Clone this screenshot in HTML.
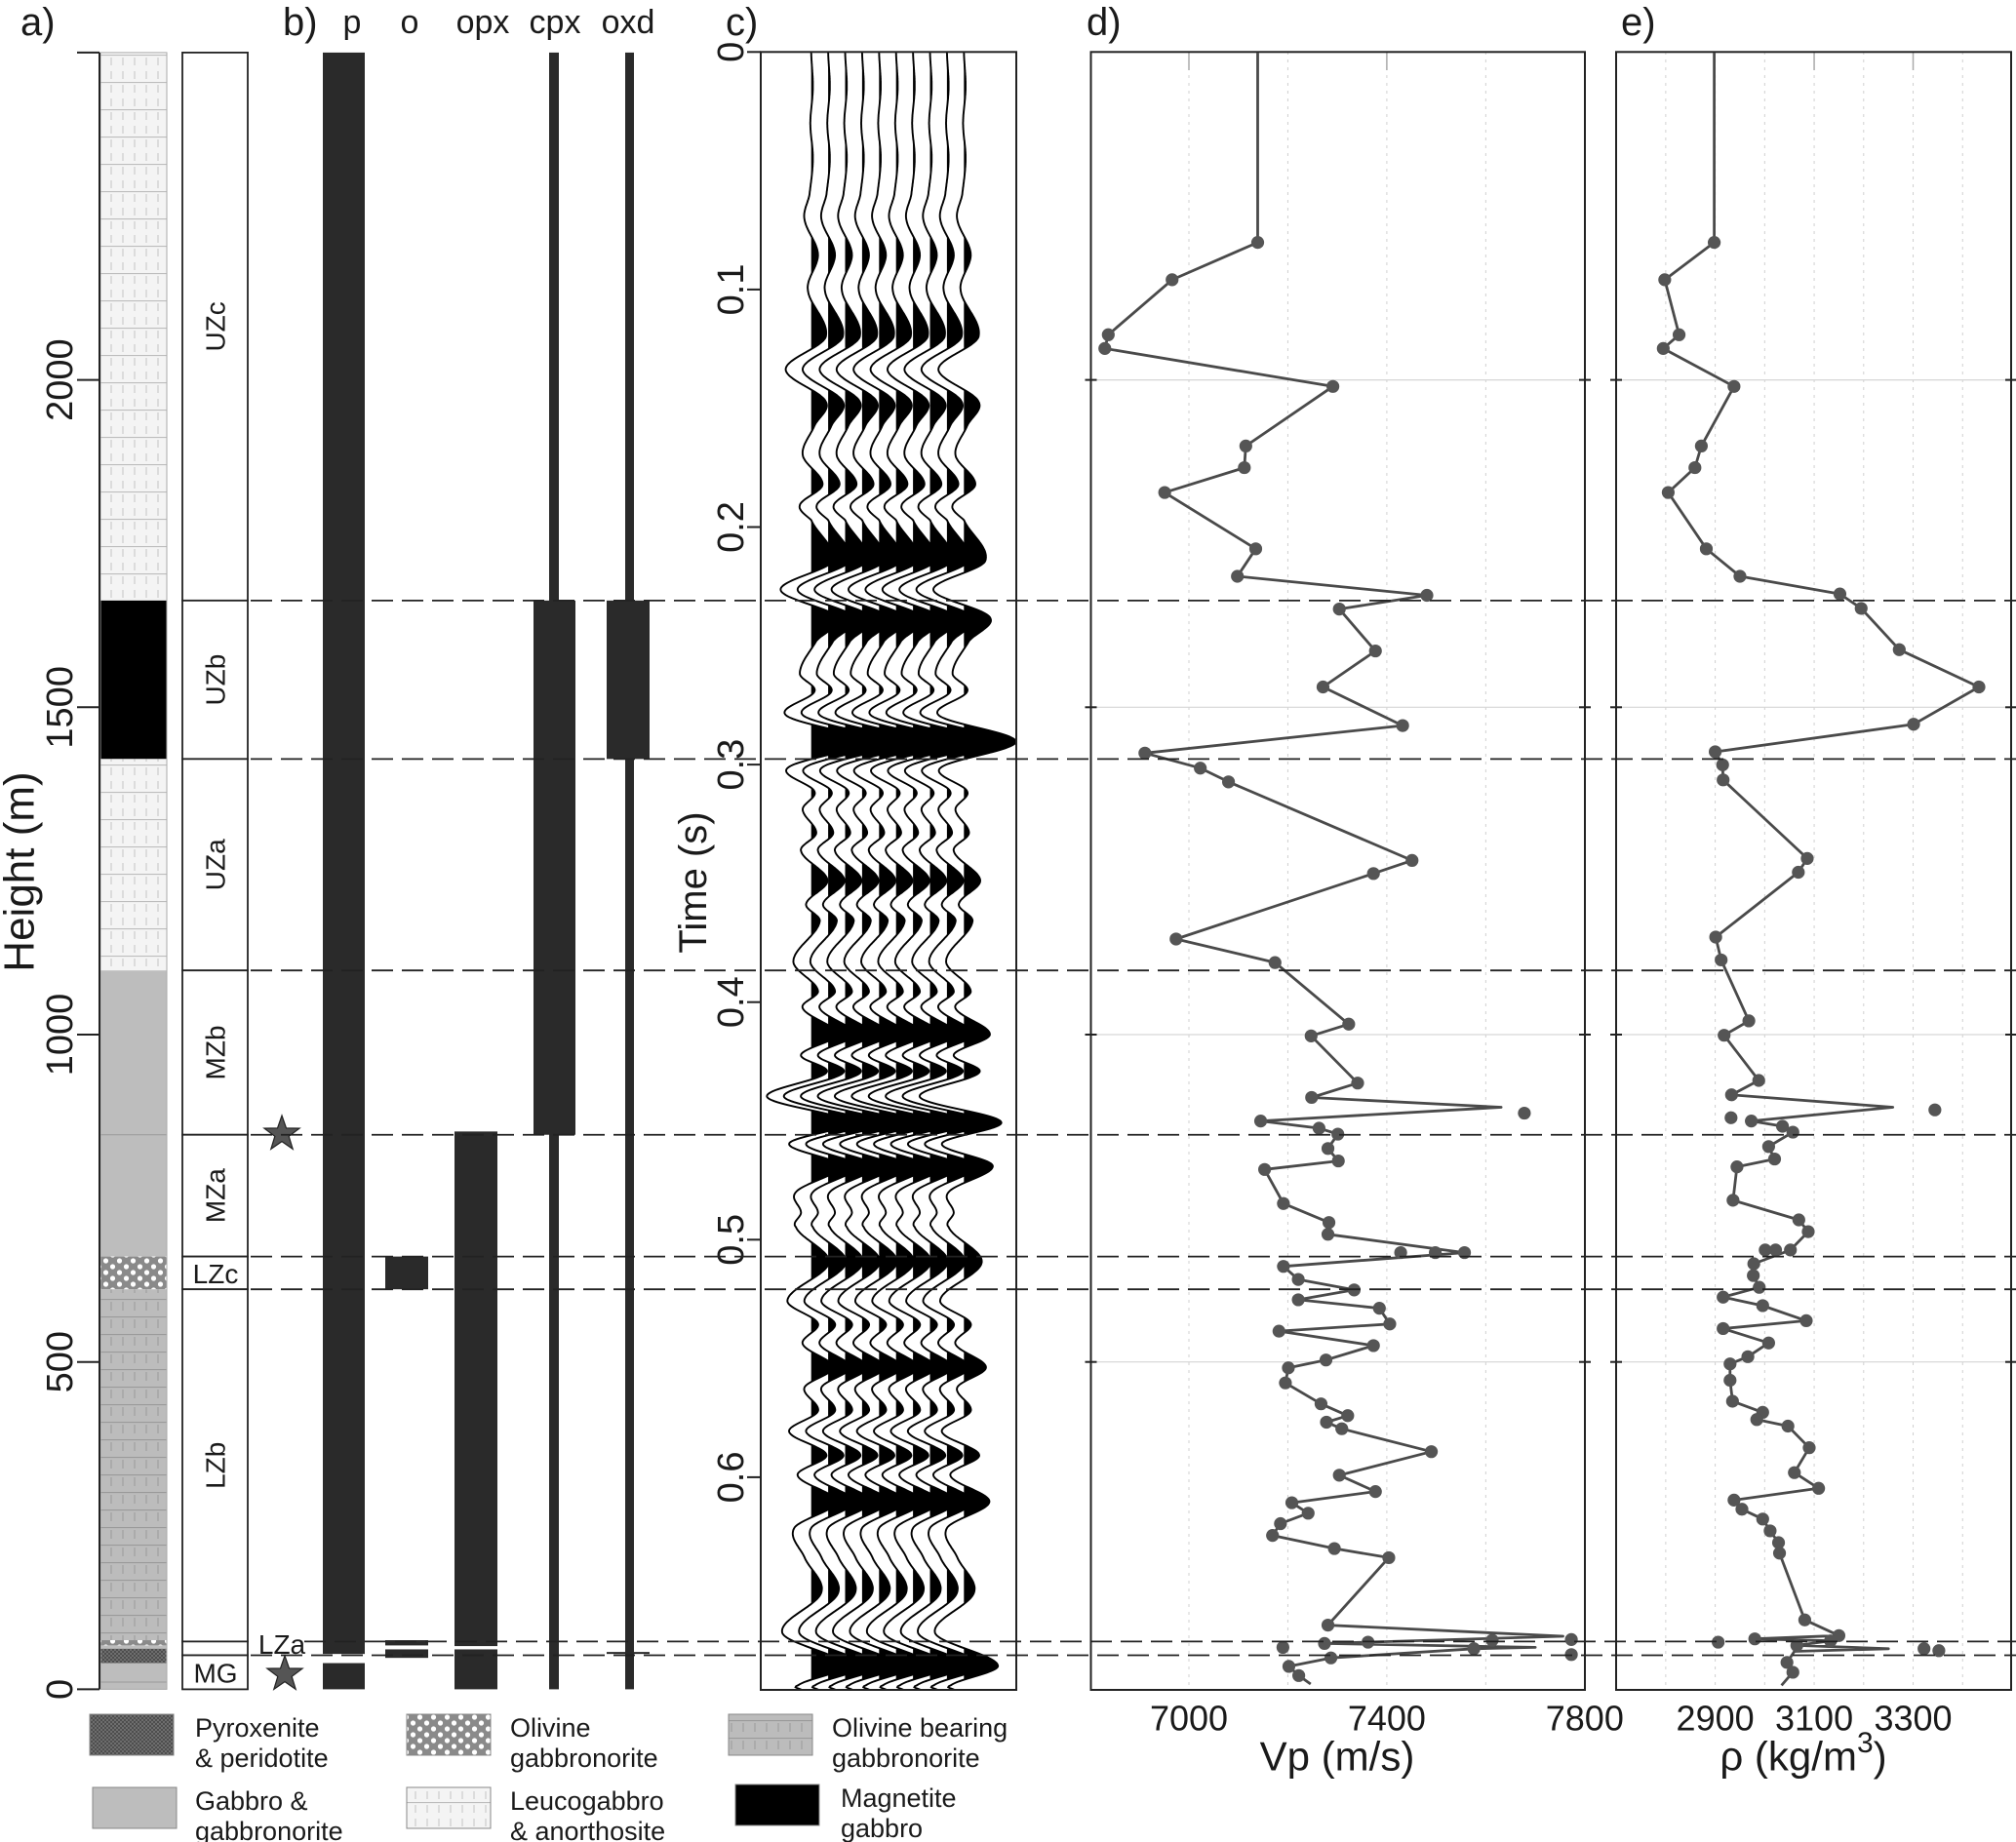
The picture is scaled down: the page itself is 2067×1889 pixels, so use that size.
<!DOCTYPE html>
<html><head><meta charset="utf-8"><style>
html,body{margin:0;padding:0;background:#fff}
svg{display:block;font-family:"Liberation Sans",Arial,sans-serif}
</style></head><body>
<svg id="fig" width="2067" height="1889" viewBox="0 0 2067 1889" xmlns="http://www.w3.org/2000/svg">
<defs>
<pattern id="pLeuco" width="12" height="28" patternUnits="userSpaceOnUse">
<rect width="12" height="28" fill="#f4f4f4"/><line x1="0" y1="0.5" x2="12" y2="0.5" stroke="#bdbdbd" stroke-width="1.2"/>
<line x1="6" y1="3" x2="6" y2="11" stroke="#c4c4c4" stroke-width="1"/><line x1="6" y1="17" x2="6" y2="25" stroke="#c4c4c4" stroke-width="1"/></pattern>
<pattern id="pOlb" width="12" height="18" patternUnits="userSpaceOnUse">
<rect width="12" height="18" fill="#bcbcbc"/><line x1="0" y1="0.5" x2="12" y2="0.5" stroke="#9a9a9a" stroke-width="1.2"/>
<line x1="6" y1="3" x2="6" y2="12" stroke="#9a9a9a" stroke-width="1"/></pattern>
<pattern id="pOlv" width="14" height="12" patternUnits="userSpaceOnUse">
<rect width="14" height="12" fill="#8a8a8a"/><circle cx="3.5" cy="3" r="2.6" fill="#fff"/><circle cx="10.5" cy="9" r="2.6" fill="#fff"/></pattern>
<pattern id="pPyx" width="4" height="4" patternUnits="userSpaceOnUse">
<rect width="4" height="4" fill="#7a7a7a"/><path d="M0 0L4 4M4 0L0 4" stroke="#4a4a4a" stroke-width="1"/></pattern>
</defs>
<g id="root"></g>
</svg>
<script>
// ---------- data ----------
const zoneNames=["UZc","UZb","UZa","MZb","MZa","LZc","LZb","LZa","MG"];
const zoneTops=[2500,1663,1421,1098,847,661,611,73,52];
const zoneBots=[1663,1421,1098,847,661,611,73,52,0];
const boundaries=[1663,1421,1098,847,661,611,73,52];
const heightTicks=[0,500,1000,1500,2000];
const timeTicks=[0,0.1,0.2,0.3,0.4,0.5,0.6];
const vpTicks=[7000,7400,7800];
const vpGrid=[7000,7200,7400,7600];
const rhoTicks=[2900,3100,3300];
const rhoGrid=[2800,2900,3000,3100,3200,3300,3400];
const depthGrid=[500,1000,1500,2000];

const vpH=[2500,2210,2153,2069,2048,1990,1899,1866,1828,1742,1700,1671,1650,1586,1531,1472,1430,1407,1386,1266,1246,1146,1110,1016,998,926,904,889,868,857,848,826,807,794,742,713,695,667,646,626,610,595,582,558,547,525,503,491,468,436,418,408,398,363,327,302,285,269,253,235,215,201,98,81,70,64,62,48,35,21,8];
const vpV=[7139,7139,6966,6837,6830,7291,7115,7112,6951,7135,7098,7481,7304,7377,7271,7432,6911,7023,7080,7451,7373,6974,7174,7323,7247,7341,7248,7631,7145,7263,7301,7281,7302,7153,7191,7283,7281,7557,7191,7221,7334,7221,7385,7406,7182,7373,7277,7201,7195,7267,7321,7278,7309,7490,7304,7377,7208,7241,7185,7169,7294,7404,7281,7756,7274,7700,7576,7287,7202,7222,7246];
const vpUnmarked=[0,27,63,65,70];
const vpExtraH=[880,667,667,76,75,72,64,53];
const vpExtraV=[7678,7428,7498,7773,7613,7362,7190,7773];

const rhoH=[2500,2210,2153,2069,2048,1990,1899,1866,1828,1742,1700,1673,1651,1588,1531,1474,1432,1412,1389,1269,1248,1149,1114,1021,999,930,908,889,868,860,851,829,810,798,747,717,699,671,650,632,614,599,586,563,551,529,508,497,472,440,423,412,402,369,331,307,289,275,260,242,224,208,106,82,77,74,67,62,58,41,26,6];
const rhoV=[2898,2898,2798,2827,2795,2938,2872,2859,2805,2882,2950,3152,3195,3272,3433,3301,2900,2915,2916,3086,3068,2901,2912,2968,2918,2988,2933,3259,2973,3036,3057,3008,3020,2944,2936,3069,3088,3052,2978,2977,2989,2916,2996,3084,2916,3008,2966,2930,2930,2935,2996,2984,3047,3090,3060,3109,2938,2954,2996,3011,3028,3030,3081,3150,2980,3133,3065,3250,3060,3045,3057,3034];
const rhoUnmarked=[0,27,67,68,71];
const rhoExtraH=[885,873,671,671,72,62,59];
const rhoExtraV=[3344,2932,3022,3001,2906,3322,3352];

const trT=[0,0.015,0.03,0.045,0.06,0.0702,0.0851,0.1,0.1199,0.1336,0.1472,0.1572,0.1696,0.1821,0.1908,0.197,0.2144,0.2264,0.238,0.248,0.2616,0.2691,0.2791,0.2903,0.3015,0.3114,0.3189,0.3288,0.3363,0.3487,0.3587,0.3661,0.3828,0.3952,0.4025,0.4136,0.4222,0.4296,0.4399,0.4505,0.4596,0.4689,0.48,0.4886,0.4947,0.5095,0.5255,0.5353,0.5439,0.5537,0.5623,0.5722,0.5808,0.5906,0.5992,0.6103,0.6214,0.6336,0.6484,0.6656,0.6792,0.6878,0.6898];
const trA=[0,0.1,-0.05,0.1,-0.1,-0.4,0.4,-0.2,0.86,-1.5,0.86,0.2,-0.5,0.67,-0.67,0,1.25,-1.8,1.53,0.3,-0.67,0.2,-1.5,3.06,-1.4,0.2,-0.5,0.3,-0.6,0.96,-0.3,0.5,-1.05,0.4,-0.5,1.53,-0.6,0.9,-2.6,2.2,-1.3,1.7,-0.9,-0.6,-0.9,1.05,-1.4,0.4,-0.5,1.3,-0.4,0.4,-1.3,0.9,-0.8,1.5,-1.0,-0.4,0.6,-1.7,2.0,-0.8,-0.5];
const traceCount=10;

// ---------- scales ----------
const yH=h=>1732.4-h*0.6714;
const yT=t=>53.3+t*2436;
const xVp=v=>1219+(v-7000)*0.50725;
const xRho=r=>1758.6+(r-2900)*0.5073;

const NS="http://www.w3.org/2000/svg";
const root=document.getElementById("root");
function mk(tag,attrs,parent){const e=document.createElementNS(NS,tag);for(const k in attrs)e.setAttribute(k,attrs[k]);(parent||root).appendChild(e);return e;}
function txt(s,x,y,size,attrs,parent){const e=mk("text",Object.assign({x:x,y:y,"font-size":size,fill:"#1a1a1a"},attrs||{}),parent);e.textContent=s;return e;}

// ---------- panel labels ----------
let t;
t=txt("a)",21,36,40);
t=txt("b)",290,36,40);
t=txt("c)",744,36,40);
t=txt("d)",1114,36,40);
t=txt("e)",1662,36,40);

// ---------- panel a: lithology ----------
const gA=mk("g",{});


const LX=103,LW=68;
function lith(h1,h2,fill,name){const r=mk("rect",{x:LX,y:yH(h1),width:LW,height:yH(h2)-yH(h1),fill:fill},gA);}
lith(2500,1663,"url(#pLeuco)","leucogabbro-upper");
lith(1663,1421,"#000","magnetite-gabbro");
lith(1421,1098,"url(#pLeuco)","leucogabbro-lower");
lith(1098,661,"#bdbdbd","gabbro");
lith(661,611,"url(#pOlv)","olivine-gabbronorite");
lith(611,75,"url(#pOlb)","olivine-bearing-gabbronorite");
lith(75,67,"url(#pOlv)","olivine-band");
lith(67,62,"#bdbdbd","gabbro-band");
lith(62,40,"url(#pPyx)","pyroxenite");
lith(40,0,"#bdbdbd","gabbro-base");
mk("line",{x1:LX,x2:LX+LW,y1:yH(847),y2:yH(847),stroke:"#999","stroke-width":1},gA);
mk("line",{x1:LX,x2:LX+LW,y1:yH(11),y2:yH(11),stroke:"#999","stroke-width":1},gA);
mk("rect",{x:LX,y:yH(2500),width:LW,height:yH(0)-yH(2500),fill:"none",stroke:"#aaa","stroke-width":1},gA);
// axis
const ax=mk("g",{});
mk("line",{x1:102,x2:102,y1:yH(2500),y2:yH(0),stroke:"#222","stroke-width":2},ax);
mk("line",{x1:79,x2:102,y1:yH(2500),y2:yH(2500),stroke:"#222","stroke-width":2},ax);
heightTicks.forEach(h=>{
  mk("line",{x1:79,x2:102,y1:yH(h),y2:yH(h),stroke:"#222","stroke-width":2},ax);
  const e=txt(String(h),62,yH(h),38,{"text-anchor":"middle","dominant-baseline":"central",transform:`rotate(-90 62 ${yH(h)})`});
  
  
});
t=txt("Height (m)",20,894,44,{"text-anchor":"middle","dominant-baseline":"central",transform:"rotate(-90 20 894)"});


// zones
const gZ=mk("g",{});
zoneNames.forEach((n,i)=>{
  const y1=yH(zoneTops[i]),y2=yH(zoneBots[i]);
  const r=mk("rect",{x:187,y:y1,width:67,height:y2-y1,fill:"#fff",stroke:"#222","stroke-width":1.8},gZ);
  
  
  let e;
  const cy=(y1+y2)/2;
  if(n==="LZc"||n==="MG") e=txt(n,221,cy+1,28,{"text-anchor":"middle","dominant-baseline":"central"},gZ);
  else if(n==="LZa") e=txt(n,289,cy-4,28,{"text-anchor":"middle","dominant-baseline":"central"},gZ);
  else e=txt(n,221,cy,28,{"text-anchor":"middle","dominant-baseline":"central",transform:`rotate(-90 221 ${cy})`},gZ);
  
  
});

// ---------- panel b: minerals ----------
const gB=mk("g",{});
const heads=[["p",361],["o",420],["opx",495],["cpx",569],["oxd",644]];
heads.forEach(h=>{const e=txt(h[0],h[1],34,34,{"text-anchor":"middle"},gB);});
function bar(x1,x2,h1,h2,name){const r=mk("rect",{x:x1,y:yH(h1),width:x2-x1,height:yH(h2)-yH(h1),fill:"#2a2a2a"},gB);}
bar(331,374,2500,54,"bar-p");bar(331,374,40,0,"bar-p-base");
bar(395,439,661,611,"bar-o-lzc");bar(395,439,75,67,"bar-o-lza1");bar(395,439,61,48,"bar-o-lza2");
bar(466,510,852,66,"bar-opx");bar(466,510,61,0,"bar-opx-base");
bar(563,573,2500,0,"bar-cpx-thin");bar(547,590,1663,847,"bar-cpx");
bar(641,650,2500,0,"bar-oxd-thin");bar(622,666,1663,1421,"bar-oxd");bar(622,666,57,54,"bar-oxd-lza");
function star(cx,cy,R,name){let p="";for(let k=0;k<10;k++){const r=k%2?R*0.4:R;const a=-Math.PI/2+k*Math.PI/5;p+=(k?"L":"M")+(cx+r*Math.cos(a)).toFixed(1)+" "+(cy+r*Math.sin(a)).toFixed(1);}const s=mk("path",{d:p+"Z",fill:"#555",stroke:"#222","stroke-width":1.2});}
star(289,1163,19,"sample-star-upper");star(292,1717,19,"sample-star-lower");

// ---------- panel c: seismic ----------
const gC=mk("g",{});
const cClip=mk("clipPath",{id:"cclip"},gC);mk("rect",{x:780,y:53,width:262,height:1680},cClip);
const gTr=mk("g",{"clip-path":"url(#cclip)"},gC);
function ampAt(tt){let i=0;while(i<trT.length-2&&trT[i+1]<tt)i++;const p0=trA[Math.max(0,i-1)],p1=trA[i],p2=trA[i+1],p3=trA[Math.min(trA.length-1,i+2)];const u=Math.max(0,Math.min(1,(tt-trT[i])/(trT[i+1]-trT[i])));const u2=u*u,u3=u2*u;return 0.5*((2*p1)+(-p0+p2)*u+(2*p0-5*p1+4*p2-p3)*u2+(-p0+3*p1-3*p2+p3)*u3);}
const ampScale=17.4;
const samples=[];const tMax=trT[trT.length-1];
for(let y=yT(0);y<=yT(tMax);y+=1){samples.push([y,ampAt((y-53.3)/2436)]);}
for(let i=0;i<traceCount;i++){
  const x0=831.7+i*17.4;
  let f="M"+x0+" "+samples[0][0];let l="";
  samples.forEach((s,k)=>{f+="L"+(x0+Math.max(0,s[1])*ampScale).toFixed(1)+" "+s[0].toFixed(1);l+=(k?"L":"M")+(x0+s[1]*ampScale).toFixed(1)+" "+s[0].toFixed(1);});
  f+="L"+x0+" "+samples[samples.length-1][0]+"Z";
  const fp=mk("path",{d:f,fill:"#000"},gTr);
  
  
  const lp=mk("path",{d:l,fill:"none",stroke:"#000","stroke-width":1.9},gTr);
  
  
}
mk("rect",{x:780,y:53.3,width:262,height:1679.7,fill:"none",stroke:"#222","stroke-width":2},gC);
timeTicks.forEach(tv=>{
  mk("line",{x1:766,x2:780,y1:yT(tv),y2:yT(tv),stroke:"#222","stroke-width":2},gC);
  const e=txt(String(tv),750,yT(tv),38,{"text-anchor":"middle","dominant-baseline":"central",transform:`rotate(-90 750 ${yT(tv)})`},gC);
  
  
});
t=txt("Time (s)",711,905,40,{"text-anchor":"middle","dominant-baseline":"central",transform:"rotate(-90 711 905)"});


// ---------- panel d / e ----------
function logPanel(x1,x2,gridVals,xs,ticks,topTicks,lineH,lineV,unmarked,exH,exV,name){
  const g=mk("g",{});
  gridVals.forEach(v=>mk("line",{x1:xs(v),x2:xs(v),y1:53,y2:1733,stroke:"#d0d0d0","stroke-width":1,"stroke-dasharray":"3 5"},g));
  depthGrid.forEach(h=>{mk("line",{x1:x1,x2:x2,y1:yH(h),y2:yH(h),stroke:"#d6d6d6","stroke-width":1.2},g);
    mk("line",{x1:x1-6,x2:x1+6,y1:yH(h),y2:yH(h),stroke:"#222","stroke-width":2},g);
    mk("line",{x1:x2-6,x2:x2+6,y1:yH(h),y2:yH(h),stroke:"#222","stroke-width":2},g);});
  topTicks.forEach(v=>mk("line",{x1:xs(v),x2:xs(v),y1:53,y2:72,stroke:"#aaa","stroke-width":1.5},g));
  mk("rect",{x:x1,y:53.3,width:x2-x1,height:1679.7,fill:"none",stroke:"#222","stroke-width":2},g);
  let d="";lineH.forEach((h,i)=>{d+=(i?"L":"M")+xs(lineV[i]).toFixed(1)+" "+yH(h).toFixed(1);});
  const ln=mk("path",{d:d,fill:"none",stroke:"#4a4a4a","stroke-width":2.8,"stroke-linejoin":"round"},g);
  
  
  lineH.forEach((h,i)=>{if(unmarked.indexOf(i)>=0)return;
    const c=mk("circle",{cx:xs(lineV[i]),cy:yH(h),r:6.6,fill:"#555"},g);
    
    });
  exH.forEach((h,i)=>{const c=mk("circle",{cx:xs(exV[i]),cy:yH(h),r:6.6,fill:"#555"},g);
    
    });
  ticks.forEach(v=>{const e=txt(String(v),xs(v),1762,36,{"text-anchor":"middle","dominant-baseline":"central"},g);
    
    });
  return g;
}
logPanel(1118.5,1625,vpGrid,xVp,vpTicks,[7000,7400],vpH,vpV,vpUnmarked,vpExtraH,vpExtraV,"vp-log");
logPanel(1657,2062,rhoGrid,xRho,rhoTicks,[3100,3300],rhoH,rhoV,rhoUnmarked,rhoExtraH,rhoExtraV,"density-log");
t=txt("Vp (m/s)",1371,1801,42,{"text-anchor":"middle","dominant-baseline":"central"});

t=mk("text",{x:1849,y:1801,"font-size":42,fill:"#1a1a1a","text-anchor":"middle","dominant-baseline":"central"});
t.innerHTML='ρ (kg/m<tspan dy="-14" font-size="30">3</tspan><tspan dy="14">)</tspan>';


// ---------- dashed boundaries ----------
const gD=mk("g",{});
boundaries.forEach(h=>{const x0=(h===73)?312:257;const l=mk("line",{x1:x0,x2:2067,y1:yH(h),y2:yH(h),stroke:"#222","stroke-width":1.8,"stroke-dasharray":"22 9"},gD);
  
  });

// ---------- legend ----------
const gL=mk("g",{});
const legSw=[[92,1758,"url(#pPyx)"],[95,1833,"#bdbdbd"],[417,1758,"url(#pOlv)"],[417,1833,"url(#pLeuco)"],[747,1758,"url(#pOlb)"],[754,1830,"#000"]];
const legTxt=[["Pyroxenite","&  peridotite",200],["Gabbro &","gabbronorite",200],["Olivine","gabbronorite",523],["Leucogabbro","& anorthosite",523],["Olivine bearing","gabbronorite",853],["Magnetite","gabbro",862]];
legSw.forEach((s,i)=>{
  const r=mk("rect",{x:s[0],y:s[1],width:86,height:42,fill:s[2],stroke:"#888","stroke-width":1},gL);
  
  
  const a=legTxt[i];
  const e1=txt(a[0],a[2],s[1]+14,27,{"dominant-baseline":"central"},gL);
  
  
  const e2=txt(a[1],a[2],s[1]+45,27,{"dominant-baseline":"central"},gL);
  
  
});
</script>
</body></html>
